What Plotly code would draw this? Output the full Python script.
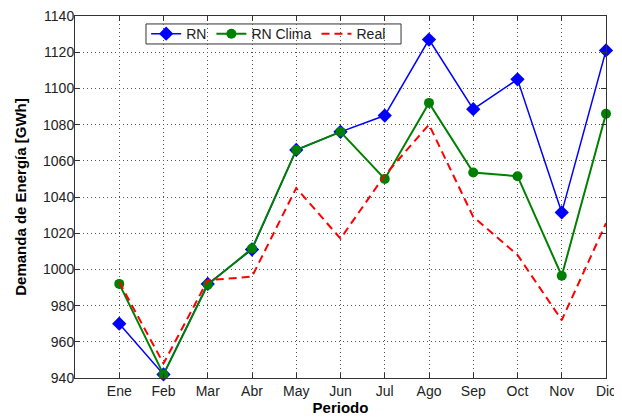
import plotly.graph_objects as go

meses = ["Ene", "Feb", "Mar", "Abr", "May", "Jun", "Jul", "Ago", "Sep", "Oct", "Nov", "Dic"]
rn = [970, 942, 992, 1011, 1066, 1076, 1085, 1127, 1088.5, 1105, 1031.5, 1121]
rn_clima = [992, 942, 991.5, 1011.5, 1066, 1076, 1050, 1092, 1053.5, 1051.5, 996.5, 1086]
real = [993, 948, 994, 996, 1045, 1017, 1052, 1080, 1029, 1008, 972, 1025.5]
y_ticks = [940, 960, 980, 1000, 1020, 1040, 1060, 1080, 1100, 1120, 1140]

x = list(range(1, len(meses) + 1))
FONT = "Liberation Sans, Arial"

fig = go.Figure()
fig.add_trace(go.Scatter(x=x, y=rn, name="RN", mode="lines+markers", cliponaxis=False,
                         line=dict(color="#0000ff", width=1.5),
                         marker=dict(symbol="diamond", size=11, color="#0000ff")))
fig.add_trace(go.Scatter(x=x, y=rn_clima, name="RN Clima", mode="lines+markers", cliponaxis=False,
                         line=dict(color="#008000", width=2),
                         marker=dict(symbol="circle", size=10, color="#008000")))
fig.add_trace(go.Scatter(x=x, y=real, name="Real", mode="lines",
                         line=dict(color="#ff0000", width=2, dash="8px,5px")))

axis_common = dict(showline=True, linecolor="#333", linewidth=1, mirror="ticks",
                   ticks="inside", ticklen=5, tickcolor="#333",
                   showgrid=True, gridcolor="#555", griddash="1px,3px", gridwidth=1,
                   zeroline=False, automargin=False, ticklabeloverflow="allow",
                   tickfont=dict(family=FONT, size=14, color="#222"))

fig.update_xaxes(range=[0, 12], tickvals=[0] + x, ticktext=[""] + meses,
                 title=dict(text="<b>Periodo</b>", font=dict(family=FONT, size=15, color="#000"), standoff=2),
                 **axis_common)
fig.update_yaxes(range=[940, 1140], tickvals=y_ticks, ticklabelstandoff=-3,
                 title=dict(text="<b>Demanda de Energía [GWh]</b>", font=dict(family=FONT, size=15, color="#000"), standoff=12),
                 **axis_common)

# legend frame
fig.add_shape(type="rect", xref="paper", yref="paper",
              x0=0.1337, x1=0.614, y0=0.9227, y1=0.978,
              line=dict(color="#333", width=1), fillcolor="white", layer="between")

fig.update_layout(
    width=614, height=409,
    margin=dict(l=67, r=16, t=8, b=39),
    paper_bgcolor="white", plot_bgcolor="white",
    showlegend=True,
    legend=dict(orientation="h", x=0.134, y=0.950, xanchor="left", yanchor="middle",
                bgcolor="rgba(0,0,0,0)", borderwidth=0,
                font=dict(family=FONT, size=14, color="#222"),
                itemwidth=30, tracegroupgap=0),
)

fig.write_html("out.html")
